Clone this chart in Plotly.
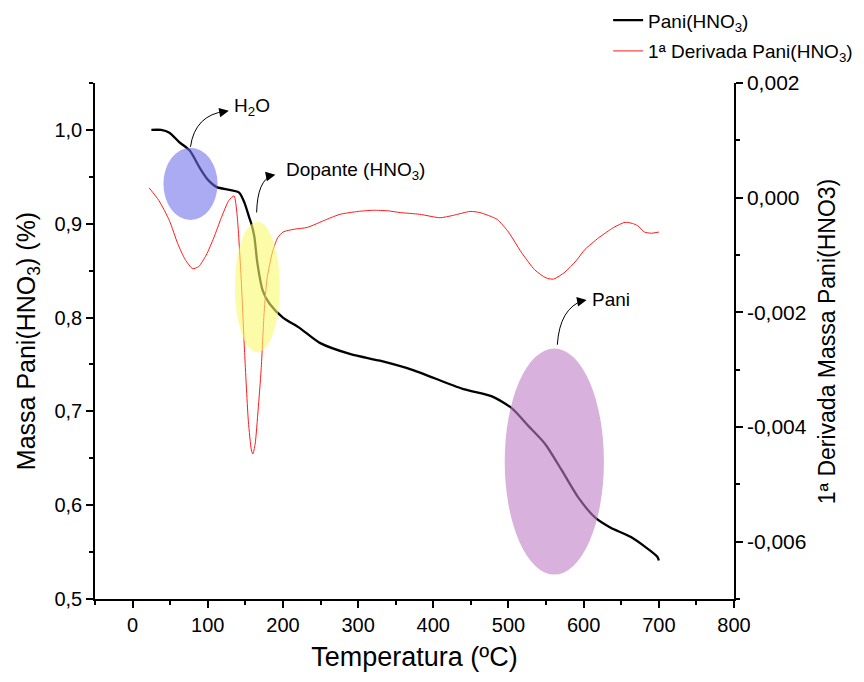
import plotly.graph_objects as go

# Mass curve (TGA)
temp_mass = [25, 38, 49, 62, 76, 89, 100, 112, 129, 142, 149, 155, 158, 162, 166, 173, 182,
             200, 222, 249, 290, 329, 373, 439, 478, 505, 527, 549, 571, 593, 615, 636, 663, 698, 700]
mass = [1.000, 1.000, 0.997, 0.987, 0.978, 0.960, 0.947, 0.939, 0.936, 0.933, 0.922, 0.907, 0.900,
        0.886, 0.858, 0.829, 0.815, 0.800, 0.789, 0.773, 0.761, 0.754, 0.744, 0.724, 0.716, 0.703,
        0.684, 0.665, 0.637, 0.608, 0.587, 0.576, 0.566, 0.545, 0.541]

# First derivative curve
temp_deriv = [22, 35, 49, 60, 70, 80, 88, 98, 108, 118, 128, 135, 139, 144, 149, 154, 158, 160,
              163, 167, 171, 175, 179, 186, 193, 200, 215, 232, 258, 276, 300, 320, 340, 356, 382,
              409, 426, 449, 462, 485, 500, 517, 535, 550, 560, 575, 590, 602, 620, 640, 655, 665,
              672, 681, 690, 700]
deriv = [0.00017, -0.00005, -0.0004, -0.0008, -0.00108, -0.00124, -0.0012, -0.001, -0.0007,
         -0.00035, -0.00005, 0.00003, -0.0003, -0.0013, -0.0027, -0.0039, -0.0044, -0.00447,
         -0.0043, -0.0037, -0.003, -0.002, -0.0014, -0.00095, -0.0007, -0.0006, -0.00055, -0.00052,
         -0.00038, -0.00029, -0.00024, -0.00022, -0.00023, -0.00026, -0.00029, -0.00035, -0.00031,
         -0.00024, -0.00026, -0.00038, -0.0006, -0.00095, -0.00126, -0.0014, -0.00142, -0.0013,
         -0.0011, -0.0009, -0.0007, -0.00052, -0.00043, -0.00045, -0.00049, -0.0006, -0.00062,
         -0.0006]

x_ticks = [0, 100, 200, 300, 400, 500, 600, 700, 800]
y2_ticks = [0.002, 0.000, -0.002, -0.004, -0.006]
y2_ticktext = ["0,002", "0,000", "-0,002", "-0,004", "-0,006"]
y2_minor = [0.001, -0.001, -0.003, -0.005, -0.007]

FONT = "Liberation Sans, Arial, sans-serif"

fig = go.Figure()
fig.add_trace(go.Scatter(x=temp_mass, y=mass, mode="lines", name="Pani(HNO<sub>3</sub>)",
                         line=dict(color="black", width=2.3, shape="spline", smoothing=0.7),
                         legendgroup="a"))
fig.add_trace(go.Scatter(x=temp_deriv, y=deriv, mode="lines", name="1ª Derivada Pani(HNO<sub>3</sub>)",
                         line=dict(color="#ff1a1a", width=1, shape="spline", smoothing=0.6),
                         yaxis="y2", legendgroup="b"))

# Highlight ellipses (drawn above lines with transparency)
fig.add_shape(type="circle", xref="x", yref="y", x0=41, x1=113, y0=0.904, y1=0.981,
              fillcolor="rgba(110,110,235,0.58)", line=dict(width=0), layer="above")
fig.add_shape(type="circle", xref="x", yref="y", x0=136, x1=196, y0=0.763, y1=0.902,
              fillcolor="rgba(250,250,110,0.6)", line=dict(width=0), layer="above")
fig.add_shape(type="circle", xref="x", yref="y", x0=495, x1=627, y0=0.526, y1=0.767,
              fillcolor="rgba(190,125,198,0.6)", line=dict(width=0), layer="above")

# Curved arrows
arrows = [
    ((77, 0.982), (83, 1.016), (124, 1.020)),
    ((165, 0.912), (166, 0.946), (186, 0.952)),
    ((565, 0.771), (568, 0.810), (600, 0.8185)),
]
for (p0, c, p1) in arrows:
    fig.add_shape(type="path", xref="x", yref="y",
                  path=f"M {p0[0]},{p0[1]} Q {c[0]},{c[1]} {p1[0]},{p1[1]}",
                  line=dict(color="black", width=1), layer="above")
    fig.add_annotation(x=p1[0] + 4, y=p1[1] + 0.0003, ax=p1[0] - 6, ay=p1[1] - 0.0012,
                       xref="x", yref="y", axref="x", ayref="y", text="", showarrow=True,
                       arrowhead=2, arrowsize=1.6, arrowwidth=1.2, arrowcolor="black")

labels = [(132, 1.0246, "H<sub>2</sub>O"), (202, 0.956, "Dopante (HNO<sub>3</sub>)"), (608, 0.8194, "Pani")]
for (lx, ly, txt) in labels:
    fig.add_annotation(x=lx, y=ly, xref="x", yref="y", text=txt, showarrow=False,
                       xanchor="left", yanchor="middle", font=dict(size=19, color="black", family=FONT))

# Right axis title (as rotated text beside the secondary axis)
fig.add_annotation(x=1.146, y=0.5, xref="paper", yref="paper", text="1ª Derivada Massa Pani(HNO3)",
                   textangle=-90, showarrow=False, xanchor="center", yanchor="middle",
                   font=dict(size=23, color="black", family=FONT))

axis_common = dict(showline=True, linecolor="black", linewidth=1.5, ticks="outside",
                   ticklen=7, tickwidth=1.5, tickcolor="black", showgrid=False, zeroline=False)

fig.update_layout(
    width=864, height=682,
    margin=dict(l=95, r=130, t=83, b=83, autoexpand=False),
    paper_bgcolor="white", plot_bgcolor="white",
    separators=",.",
    font=dict(family=FONT, color="black"),
    showlegend=True,
    legend=dict(xref="paper", yref="container", x=0.803, y=0.998, xanchor="left", yanchor="top",
                bgcolor="rgba(0,0,0,0)", font=dict(size=19, color="black", family=FONT),
                tracegroupgap=3),
    xaxis=dict(range=[-50, 800], tickmode="array", tickvals=x_ticks,
               tickfont=dict(size=20, color="black", family=FONT),
               title=dict(text="Temperatura (ºC)", font=dict(size=27, family=FONT), standoff=12),
               minor=dict(ticks="outside", ticklen=4, tickwidth=1.5, tickcolor="black", dtick=50, tick0=0),
               **axis_common),
    yaxis=dict(range=[0.5, 1.05], tick0=0.5, dtick=0.1, tickformat=".1f",
               tickfont=dict(size=20, color="black", family=FONT),
               title=dict(text="Massa Pani(HNO<sub>3</sub>) (%)", font=dict(size=25, family=FONT), standoff=12),
               minor=dict(ticks="outside", ticklen=4, tickwidth=1.5, tickcolor="black", dtick=0.05, tick0=0.5),
               **axis_common),
    yaxis2=dict(range=[-0.007, 0.002], overlaying="y", side="right", anchor="x",
                tickmode="array", tickvals=y2_ticks, ticktext=y2_ticktext,
                tickfont=dict(size=21, color="black", family=FONT),
                minor=dict(ticks="outside", ticklen=4, tickwidth=1.5, tickcolor="black",
                           tickmode="array", tickvals=y2_minor),
                **axis_common),
)

fig.write_html("out.html")
